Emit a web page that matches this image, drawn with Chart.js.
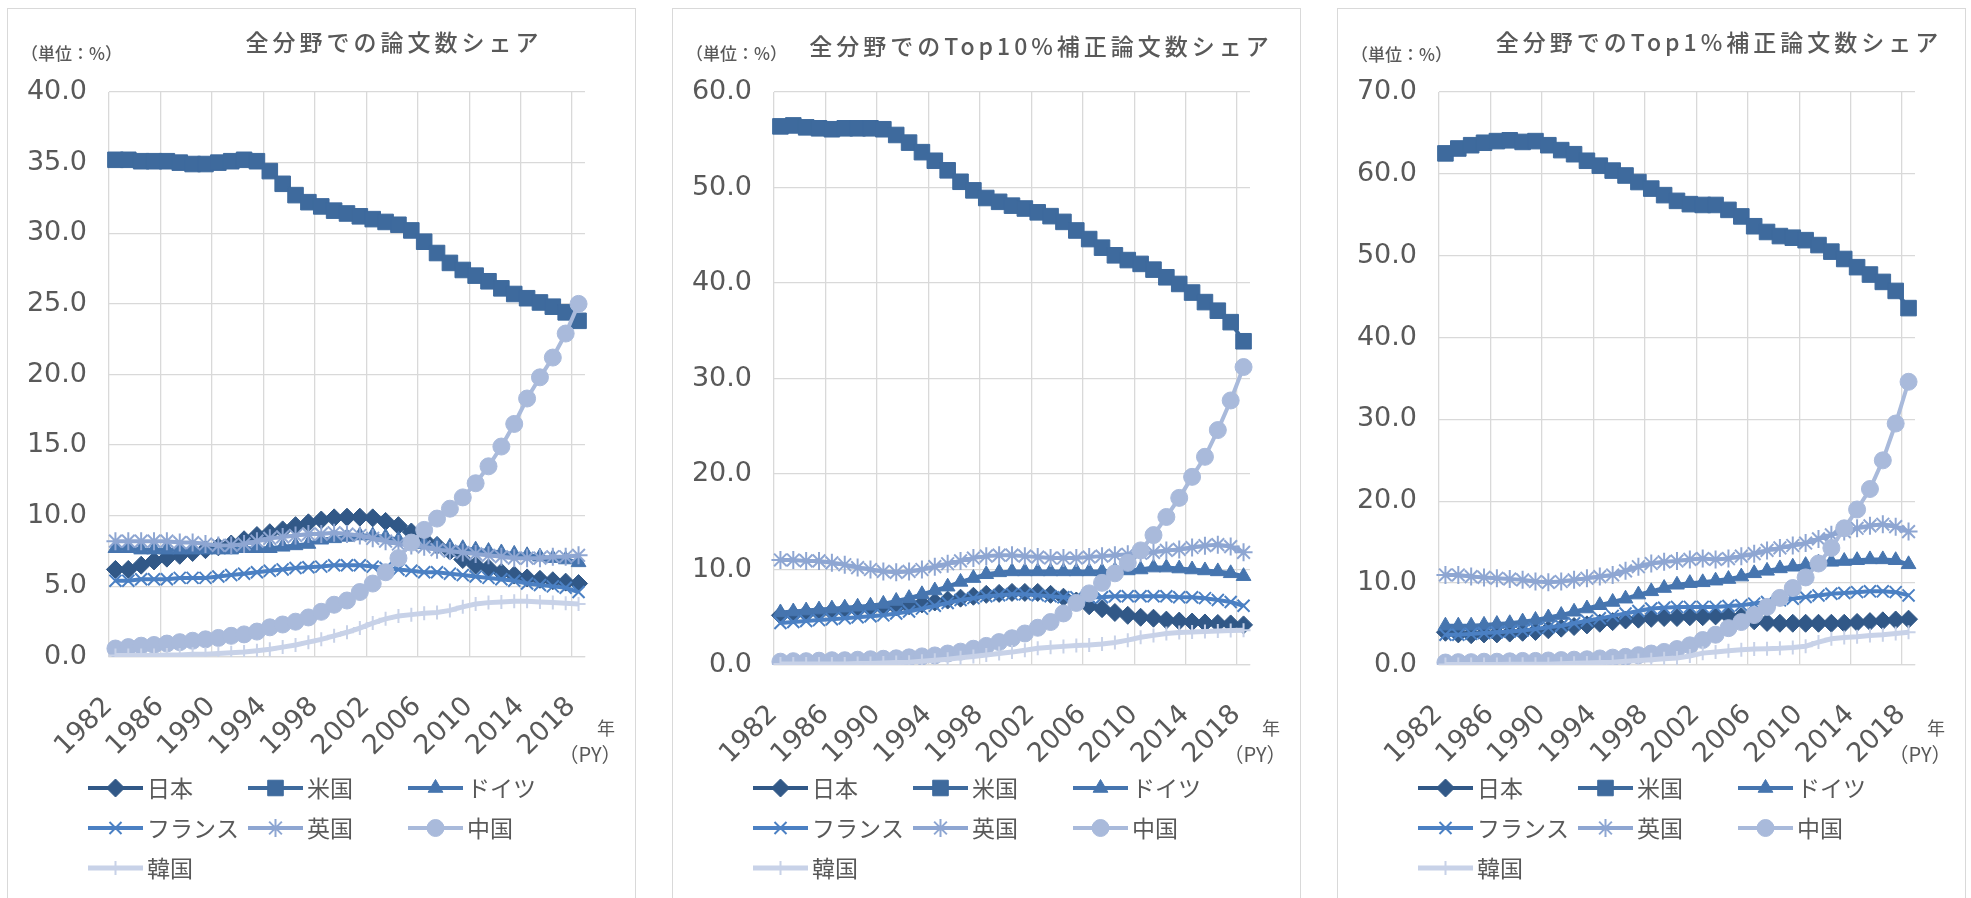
<!DOCTYPE html>
<html><head><meta charset="utf-8">
<script src="https://cdn.jsdelivr.net/npm/chart.js"></script>
<style>
html,body{margin:0;padding:0;background:#fff;width:1971px;height:898px;overflow:hidden;}
.frame{position:absolute;top:8px;width:629px;height:900px;border:1.5px solid #d9d9d9;box-sizing:border-box;pointer-events:none;}
canvas{position:absolute;top:8px;}
</style></head><body>
<div class="frame" style="left:7px"></div>
<div class="frame" style="left:672px"></div>
<div class="frame" style="left:1337px"></div>
<canvas id="c1" width="629" height="890" style="left:7px"></canvas>
<canvas id="c2" width="629" height="890" style="left:672px"></canvas>
<canvas id="c3" width="629" height="890" style="left:1337px"></canvas>
<script>
// ---- categories ----
const years = ['1982','1983','1984','1985','1986','1987','1988','1989','1990','1991','1992','1993','1994','1995','1996','1997','1998','1999','2000','2001','2002','2003','2004','2005','2006','2007','2008','2009','2010','2011','2012','2013','2014','2015','2016','2017','2018'];
const countries = ['日本','米国','ドイツ','フランス','英国','中国','韓国'];

// ---- panel 1: 全分野での論文数シェア ----
const p1Japan   = [6.2,6.2,6.5,6.8,7.0,7.2,7.4,7.6,7.8,8.0,8.3,8.6,8.8,9.0,9.3,9.5,9.7,9.85,9.9,9.9,9.85,9.6,9.3,8.85,8.3,7.9,7.5,6.9,6.5,6.3,6.0,5.8,5.6,5.5,5.4,5.3,5.2];
const p1US      = [35.2,35.2,35.1,35.1,35.1,35.0,34.9,34.9,35.0,35.1,35.2,35.1,34.4,33.5,32.7,32.2,31.9,31.6,31.4,31.2,31.0,30.8,30.6,30.2,29.4,28.6,27.9,27.4,27.0,26.6,26.1,25.7,25.4,25.1,24.8,24.4,23.8];
const p1Germany = [7.7,7.7,7.6,7.6,7.6,7.6,7.6,7.6,7.6,7.6,7.7,7.7,7.7,7.8,7.9,8.0,8.3,8.4,8.5,8.6,8.6,8.5,8.3,8.1,8.0,7.9,7.8,7.7,7.6,7.5,7.4,7.3,7.2,7.1,7.0,6.9,6.7];
const p1France  = [5.4,5.4,5.5,5.5,5.5,5.6,5.6,5.6,5.7,5.8,5.9,6.0,6.1,6.2,6.3,6.35,6.4,6.5,6.5,6.5,6.4,6.3,6.2,6.1,6.0,6.0,5.9,5.8,5.7,5.6,5.5,5.4,5.2,5.1,5.0,4.9,4.6];
const p1UK      = [8.2,8.2,8.2,8.2,8.2,8.1,8.1,8.0,7.9,7.9,8.0,8.2,8.4,8.5,8.6,8.7,8.7,8.8,8.7,8.6,8.4,8.2,8.0,7.9,7.8,7.6,7.5,7.4,7.3,7.2,7.1,7.0,7.0,7.0,7.1,7.1,7.2];
const p1China   = [0.6,0.7,0.8,0.85,0.95,1.05,1.15,1.25,1.35,1.5,1.6,1.8,2.1,2.3,2.5,2.8,3.2,3.7,4.0,4.6,5.2,6.0,7.0,8.1,9.0,9.8,10.5,11.3,12.3,13.5,14.9,16.5,18.3,19.8,21.2,22.9,25.0];
const p1Korea   = [0.1,0.1,0.1,0.1,0.15,0.15,0.2,0.2,0.25,0.3,0.35,0.45,0.55,0.7,0.85,1.05,1.25,1.5,1.75,2.05,2.4,2.7,2.9,3.0,3.1,3.15,3.3,3.55,3.75,3.85,3.9,3.95,3.95,3.9,3.85,3.8,3.75];

// ---- panel 2: 全分野でのTop10%補正論文数シェア ----
const p2Japan   = [5.2,5.3,5.4,5.5,5.6,5.7,5.8,5.9,6.0,6.1,6.2,6.4,6.6,6.8,7.0,7.2,7.4,7.5,7.6,7.6,7.6,7.4,7.1,6.7,6.2,5.9,5.5,5.2,5.0,4.9,4.7,4.6,4.5,4.4,4.35,4.3,4.2];
const p2US      = [56.4,56.5,56.3,56.2,56.1,56.2,56.2,56.2,56.1,55.5,54.7,53.7,52.8,51.8,50.6,49.7,48.9,48.5,48.1,47.8,47.4,47.0,46.4,45.5,44.6,43.7,42.9,42.4,42.0,41.4,40.6,39.9,39.0,38.0,37.1,35.9,33.9];
const p2Germany = [5.5,5.6,5.7,5.8,5.9,6.0,6.1,6.2,6.4,6.7,7.0,7.4,7.8,8.2,8.7,9.1,9.5,9.7,9.8,9.8,9.8,9.8,9.8,9.8,9.8,9.8,9.9,9.9,10.0,10.2,10.2,10.1,10.0,9.9,9.8,9.6,9.3];
const p2France  = [4.4,4.5,4.6,4.7,4.8,4.9,5.0,5.1,5.2,5.4,5.6,5.9,6.2,6.5,6.8,7.0,7.2,7.3,7.4,7.4,7.3,7.2,7.1,7.1,7.1,7.1,7.2,7.2,7.2,7.2,7.2,7.1,7.1,7.0,6.8,6.6,6.2];
const p2UK      = [11.0,11.0,10.9,10.9,10.7,10.5,10.2,10.0,9.8,9.7,9.8,10.0,10.3,10.6,10.9,11.2,11.4,11.5,11.5,11.4,11.3,11.2,11.2,11.2,11.3,11.4,11.5,11.6,11.7,11.8,12.0,12.1,12.3,12.5,12.6,12.4,11.8];
const p2China   = [0.35,0.4,0.4,0.45,0.5,0.5,0.55,0.6,0.65,0.7,0.8,0.9,1.0,1.2,1.4,1.7,2.0,2.4,2.8,3.3,3.9,4.5,5.4,6.5,7.5,8.6,9.6,10.7,12.0,13.6,15.5,17.5,19.7,21.8,24.6,27.7,31.2];
const p2Korea   = [0.1,0.1,0.1,0.1,0.1,0.1,0.15,0.15,0.2,0.25,0.3,0.4,0.5,0.6,0.75,0.9,1.05,1.2,1.35,1.55,1.75,1.85,1.95,2.05,2.1,2.2,2.35,2.6,2.9,3.1,3.3,3.4,3.45,3.5,3.55,3.6,3.65];

// ---- panel 3: 全分野でのTop1%補正論文数シェア ----
const p3Japan   = [4.0,3.8,3.7,3.8,3.8,3.9,4.0,4.1,4.3,4.5,4.7,4.9,5.1,5.3,5.5,5.6,5.7,5.8,5.8,5.9,5.9,6.0,6.0,5.9,5.4,5.2,5.1,5.1,5.1,5.1,5.1,5.1,5.2,5.3,5.4,5.5,5.6];
const p3US      = [62.5,63.1,63.5,63.8,64.0,64.1,63.9,64.0,63.5,62.9,62.4,61.6,61.0,60.4,59.8,59.0,58.2,57.4,56.7,56.3,56.2,56.2,55.6,54.8,53.6,52.9,52.4,52.2,51.9,51.3,50.5,49.6,48.6,47.7,46.8,45.7,43.6];
const p3Germany = [4.8,4.8,4.8,4.9,5.0,5.1,5.3,5.5,5.8,6.1,6.5,6.9,7.3,7.7,8.1,8.6,9.0,9.4,9.8,10.0,10.1,10.3,10.5,10.8,11.2,11.5,11.8,12.0,12.2,12.5,12.6,12.7,12.8,12.9,12.9,12.8,12.3];
const p3France  = [3.7,3.7,3.8,3.9,4.0,4.1,4.2,4.4,4.6,4.8,5.1,5.4,5.7,6.0,6.3,6.6,6.9,7.0,7.1,7.1,7.1,7.1,7.2,7.3,7.5,7.7,7.9,8.1,8.3,8.5,8.7,8.8,8.9,9.0,9.0,8.9,8.5];
const p3UK      = [11.0,11.0,10.8,10.7,10.6,10.5,10.4,10.2,10.1,10.2,10.4,10.6,10.8,11.0,11.5,12.0,12.4,12.6,12.7,12.9,13.0,12.9,13.0,13.3,13.6,14.0,14.3,14.6,14.9,15.4,15.9,16.3,16.7,17.0,17.2,16.9,16.3];
const p3China   = [0.3,0.35,0.35,0.4,0.4,0.45,0.5,0.5,0.55,0.6,0.65,0.7,0.8,0.9,1.0,1.2,1.4,1.6,1.95,2.4,3.05,3.7,4.5,5.25,6.1,7.1,8.2,9.4,10.7,12.4,14.3,16.7,19.0,21.5,25.0,29.5,34.6];
const p3Korea   = [0.05,0.05,0.05,0.05,0.05,0.1,0.1,0.1,0.1,0.15,0.2,0.25,0.3,0.35,0.45,0.55,0.65,0.75,0.85,1.1,1.45,1.6,1.75,1.85,1.95,2.0,2.05,2.15,2.3,2.8,3.2,3.35,3.45,3.6,3.7,3.85,4.0];

// ---- styles ----
const TEXT = '#595959';
const GRID = '#d9d9d9';
const seriesStyle = [
  {color:'#315887', point:'rectRot',  radius:9,   pbw:1,   lw:4},
  {color:'#3e6a9d', point:'rect',     radius:11,  pbw:1,   lw:4},
  {color:'#4675af', point:'triangle', radius:8.5, pbw:1,   lw:4},
  {color:'#4b80c3', point:'crossRot', radius:8.5, pbw:2,   lw:4},
  {color:'#8ea6d2', point:'star',     radius:9,   pbw:2,   lw:4},
  {color:'#a9badb', point:'circle',   radius:8.5, pbw:1,   lw:4},
  {color:'#c8d2e8', point:'cross',    radius:7,   pbw:2,   lw:5}
];

const panelText = {
  id: 'panelText',
  afterDraw(chart, args, o) {
    const ctx = chart.ctx;
    ctx.save();
    ctx.fillStyle = TEXT;
    ctx.textBaseline = 'middle';
    ctx.font = '500 23px "Noto Sans CJK JP"';
    ctx.textAlign = 'center';
    try { ctx.letterSpacing = '4px'; } catch(e) {}
    ctx.fillText(o.title, o.titleX, o.titleY);
    try { ctx.letterSpacing = '0px'; } catch(e) {}
    ctx.textAlign = 'left';
    ctx.font = '500 17px "Noto Sans CJK JP"';
    ctx.fillText('（単位：%）', 14, o.unitY);
    ctx.font = '18px "Noto Sans CJK JP"';
    ctx.textAlign = 'center';
    ctx.fillText('年', 599, 720);
    ctx.font = '20px "Noto Sans CJK JP"';
    ctx.fillText('（PY）', 583, 746);
    // legend
    ctx.font = '23px "Noto Sans CJK JP"';
    ctx.textAlign = 'left';
    chart.data.datasets.forEach((ds, i) => {
      const col = i % 3, row = Math.floor(i / 3);
      const x0 = 81 + col * 160, y = 780 + row * 40;
      ctx.save();
      ctx.strokeStyle = ds.borderColor;
      ctx.lineWidth = ds.borderWidth;
      ctx.beginPath(); ctx.moveTo(x0, y); ctx.lineTo(x0 + 55, y); ctx.stroke();
      ctx.fillStyle = ds.pointBackgroundColor;
      ctx.strokeStyle = ds.pointBorderColor;
      ctx.lineWidth = ds.pointBorderWidth;
      if (Chart.helpers && Chart.helpers.drawPoint) {
        Chart.helpers.drawPoint(ctx, {pointStyle: ds.pointStyle, radius: ds.pointRadius, borderWidth: ds.pointBorderWidth, rotation: 0}, x0 + 27.5, y);
      }
      ctx.restore();
      ctx.fillStyle = TEXT;
      ctx.fillText(ds.label, x0 + 59, y);
    });
    ctx.restore();
  }
};

function makeChart(id, seriesData, yMax, yStep, plotBottom, title, titleX, titleY, unitY) {
  const H = 890;
  const datasets = seriesData.map((d, i) => {
    const s = seriesStyle[i];
    return {
      label: countries[i], data: d,
      borderColor: s.color, backgroundColor: s.color, borderWidth: s.lw,
      pointStyle: s.point, pointRadius: s.radius, pointBorderWidth: s.pbw,
      pointBackgroundColor: s.color, pointBorderColor: s.color,
      tension: 0, fill: false, order: seriesData.length - 1 - i
    };
  });
  return new Chart(document.getElementById(id), {
    type: 'line',
    data: { labels: years, datasets },
    plugins: [panelText],
    options: {
      responsive: false, animation: false, devicePixelRatio: 1,
      layout: { padding: { left: 0, right: 40, top: 84, bottom: 0 } },
      plugins: {
        legend: { display: false }, title: { display: false }, tooltip: { enabled: false },
        panelText: { title, titleX, titleY, unitY }
      },
      scales: {
        x: {
          type: 'category', offset: true,
          grid: { offset: true, drawTicks: false, lineWidth: 1.3,
                  color: c => (c.index !== undefined && c.index % 4 === 0) ? GRID : 'rgba(0,0,0,0)' },
          border: { display: true, color: GRID, width: 1.3 },
          ticks: { autoSkip: false, maxRotation: 45, minRotation: 45, padding: 34, labelOffset: -7,
                   color: TEXT, font: { family: '"DejaVu Sans"', size: 27 },
                   callback: (v, i) => (i % 4 === 0 ? years[i] : '') },
          afterFit: s => { s.height = H - plotBottom; }
        },
        y: {
          min: 0, max: yMax,
          grid: { color: GRID, lineWidth: 1.3, drawTicks: false },
          border: { display: false },
          ticks: { stepSize: yStep, padding: 22, color: TEXT, font: { family: '"DejaVu Sans"', size: 27 },
                   callback: v => Number(v).toFixed(1) },
          afterFit: s => { s.width = 102; }
        }
      }
    }
  });
}

makeChart('c1', [p1Japan, p1US, p1Germany, p1France, p1UK, p1China, p1Korea], 40, 5, 649, '全分野での論文数シェア', 387, 34, 46);
makeChart('c2', [p2Japan, p2US, p2Germany, p2France, p2UK, p2China, p2Korea], 60, 10, 657, '全分野でのTop10%補正論文数シェア', 369, 38, 46);
makeChart('c3', [p3Japan, p3US, p3Germany, p3France, p3UK, p3China, p3Korea], 70, 10, 657, '全分野でのTop1%補正論文数シェア', 382, 34, 47);
</script>
</body></html>
